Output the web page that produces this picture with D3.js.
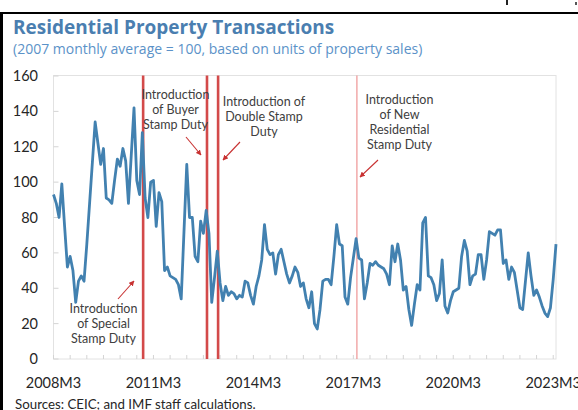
<!DOCTYPE html>
<html>
<head>
<meta charset="utf-8">
<script src="https://cdn.jsdelivr.net/npm/d3@7"></script>
<style>
  html, body { margin: 0; padding: 0; background: #fff; }
  svg { display: block; }
</style>
</head>
<body>
<svg id="chart" width="578" height="410"></svg>
<script>
// monthly index, 2008M3 = 0
var startYear = 2008, startMonth = 3;

var values = [
    93, 88, 80, 99, 75, 52, 58, 50, 32, 44, 47, 44,
    65, 88, 111, 134, 122, 110, 119, 91, 90, 88, 101, 113,
    109, 119, 112, 88, 115, 142, 101, 93, 128, 91, 80, 100,
    101, 75, 94, 89, 50, 52, 47, 46, 45, 42, 34, 72,
    110, 80, 80, 58, 55, 78, 71, 84, 71, 32, 46, 61,
    43, 33, 41, 36, 38, 37, 34, 36, 35, 44, 43, 36,
    31, 41, 47, 56, 76, 62, 59, 60, 48, 59, 62, 55,
    48, 43, 47, 52, 49, 41, 43, 34, 29, 38, 20, 17,
    28, 44, 45, 45, 42, 58, 76, 65, 64, 35, 31, 46,
    57, 68, 57, 56, 34, 43, 54, 53, 55, 53, 52, 51,
    48, 42, 64, 55, 65, 56, 39, 41, 28, 19, 31, 42,
    39, 77, 80, 47, 46, 42, 33, 37, 56, 30, 26, 33,
    38, 39, 40, 58, 67, 61, 42, 47, 48, 59, 59, 45,
    56, 72, 71, 70, 73, 73, 54, 56, 45, 52, 49, 39,
    29, 28, 44, 60, 47, 36, 39, 35, 30, 26, 24, 29,
    45, 65
];

var xTickLabels = ["2008M3", "2011M3", "2014M3", "2017M3", "2020M3", "2023M3"];
var yTicks = [0, 20, 40, 60, 80, 100, 120, 140, 160];

// policy dates
var policyDates = ["2010M11", "2012M10", "2013M2", "2017M4"];
var policyText = [
    ["Introduction", "of Special", "Stamp Duty"],
    ["Introduction", "of Buyer", "Stamp Duty"],
    ["Introduction of", "Double Stamp", "Duty"],
    ["Introduction", "of New", "Residential", "Stamp Duty"]
];

function monthIndex(label) {
    var p = label.split("M");
    return (+p[0] - startYear) * 12 + (+p[1] - startMonth);
}

var svg = d3.select("#chart");
var width = 578, height = 410;
var plot = { left: 53.5, right: 556, top: 75.5, bottom: 359 };

var x = d3.scaleLinear().domain([0, values.length - 1]).range([plot.left, plot.right]);
var y = d3.scaleLinear().domain([0, 160]).range([plot.bottom, 76]);

svg.append("rect").attr("width", width).attr("height", height).attr("fill", "#fff");

// frame of the page
svg.append("rect").attr("x", 0).attr("y", 12).attr("width", 578).attr("height", 2).attr("fill", "#000");
svg.append("rect").attr("x", 0).attr("y", 12).attr("width", 3).attr("height", 398).attr("fill", "#000");
svg.append("rect").attr("x", 506).attr("y", 0).attr("width", 2).attr("height", 5).attr("fill", "#222");
svg.append("rect").attr("x", 575).attr("y", 2).attr("width", 2).attr("height", 3).attr("fill", "#555");

// titles
svg.append("text").attr("x", 13).attr("y", 34)
    .attr("font-family", "Open Sans").attr("font-weight", "bold").attr("font-size", 19)
    .attr("fill", "#4a7eb0").text("Residential Property Transactions");
svg.append("text").attr("x", 13).attr("y", 53.5)
    .attr("font-family", "Open Sans").attr("font-size", 14)
    .attr("fill", "#5b92c8").text("(2007 monthly average = 100, based on units of property sales)");

// plot area border
svg.append("rect").attr("x", plot.left).attr("y", plot.top)
    .attr("width", plot.right - plot.left).attr("height", plot.bottom - plot.top)
    .attr("fill", "none").attr("stroke", "#e2e2e2").attr("stroke-width", 1);

// x ticks every 6 months
var g = svg.append("g").attr("stroke", "#d4d4d4").attr("stroke-width", 1);
d3.range(0, values.length, 6).forEach(function (d) {
    g.append("line").attr("x1", x(d)).attr("x2", x(d))
        .attr("y1", plot.bottom).attr("y2", plot.bottom - 4);
});
yTicks.forEach(function (d) {
    g.append("line").attr("x1", plot.left).attr("x2", plot.left + 5)
        .attr("y1", y(d)).attr("y2", y(d));
});

// y labels
svg.append("g").selectAll("text").data(yTicks).join("text")
    .attr("x", 38).attr("y", function (d) { return y(d) + 5; })
    .attr("text-anchor", "end")
    .attr("font-family", "Lato").attr("font-size", 14.5).attr("fill", "#262626")
    .text(function (d) { return d; });

// x labels
svg.append("g").selectAll("text").data(xTickLabels).join("text")
    .attr("x", function (d) { return x(monthIndex(d)); })
    .attr("y", 388)
    .attr("text-anchor", "middle")
    .attr("font-family", "Lato").attr("font-size", 14.5).attr("fill", "#262626")
    .text(function (d) { return d; });

// policy lines
var lineWidths = [2.6, 2.6, 2.6, 1.1];
var lineColors = ["#d34a4a", "#d34a4a", "#d34a4a", "#ec8a8a"];
policyDates.forEach(function (d, i) {
    svg.append("line")
        .attr("x1", x(monthIndex(d)) + 0.8).attr("x2", x(monthIndex(d)) + 0.8)
        .attr("y1", plot.top).attr("y2", plot.bottom)
        .attr("stroke", lineColors[i]).attr("stroke-width", lineWidths[i]);
});

// the series
var line = d3.line()
    .x(function (d, i) { return x(i); })
    .y(function (d) { return y(d); });

svg.append("path").datum(values)
    .attr("d", line)
    .attr("fill", "none")
    .attr("stroke", "#4281b0")
    .attr("stroke-width", 2.8)
    .attr("stroke-linejoin", "round");

// annotations
svg.append("defs").append("marker")
    .attr("id", "arrow").attr("viewBox", "0 0 10 10")
    .attr("refX", 9).attr("refY", 5)
    .attr("markerWidth", 5).attr("markerHeight", 5)
    .attr("orient", "auto")
    .append("path").attr("d", "M0,0L10,5L0,10z").attr("fill", "#c83232");

var labelPos = [[103.5, 313], [175.5, 99], [264, 106], [399.5, 104]];
var arrows = [
    [[118, 299], [134, 281]],
    [[186, 137], [201, 155]],
    [[240, 142], [223, 160]],
    [[378, 160], [360, 177]]
];

policyText.forEach(function (lines, i) {
    var t = svg.append("text")
        .attr("font-family", "Lato").attr("font-size", 12.5).attr("fill", "#404040")
        .attr("text-anchor", "middle");
    lines.forEach(function (s, j) {
        t.append("tspan").attr("x", labelPos[i][0]).attr("y", labelPos[i][1] + j * 15).text(s);
    });
    svg.append("line")
        .attr("x1", arrows[i][0][0]).attr("y1", arrows[i][0][1])
        .attr("x2", arrows[i][1][0]).attr("y2", arrows[i][1][1])
        .attr("stroke", "#c83232").attr("stroke-width", 1.1)
        .attr("marker-end", "url(#arrow)");
});

// source
svg.append("text").attr("x", 15).attr("y", 409)
    .attr("font-family", "Lato").attr("font-size", 13.3).attr("fill", "#262626")
    .text("Sources: CEIC; and IMF staff calculations.");
</script>
</body>
</html>
